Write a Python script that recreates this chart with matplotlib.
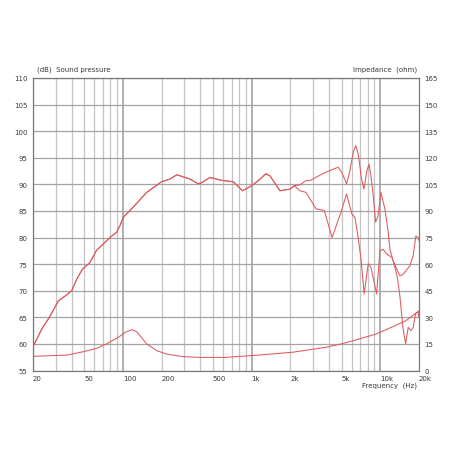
import numpy as np
import matplotlib
matplotlib.use("Agg")
import matplotlib.pyplot as plt
from matplotlib.ticker import NullFormatter

# data
spl_freq_common = [20, 21, 23.5, 26.8, 31.5, 35.5, 40, 44, 48.7, 55.4, 62.4, 70.4, 79.2,
                   89.4, 95, 100.6, 120, 153, 200, 232, 262, 332, 384, 408, 474, 534,
                   600, 720, 850, 1002, 1126, 1292, 1390, 1662, 1990, 2148]
spl_db_common = [59.5, 60.5, 62.9, 65.0, 68.1, 69.0, 70.0, 72.3, 74.1, 75.3, 77.6, 78.8,
                 80.0, 81.0, 82.3, 83.8, 85.7, 88.5, 90.5, 91.0, 91.8, 91.0, 90.1, 90.3,
                 91.3, 91.0, 90.7, 90.5, 88.8, 89.75, 90.7, 92.0, 91.6, 88.8, 89.1, 89.75]

spl_on_freq = [2376, 2644, 2840, 3560, 4064, 4441, 4712, 5008, 5477, 5808, 6166, 6436,
               6740, 7161, 7464, 7832, 8161, 8460, 8815, 9202, 9600, 10117, 10862, 11526,
               11885, 12604, 13400, 13640, 14210, 15000, 15740, 16480, 17300, 18020,
               18810, 19720, 20000]
spl_on_db = [89.9, 90.7, 90.7, 92.0, 92.6, 93.0, 93.2, 92.3, 90.1, 92.6, 96.0, 97.3,
             95.7, 91.0, 89.1, 92.3, 93.8, 91.6, 87.9, 82.9, 84.0, 88.5, 85.4, 81.0,
             77.8, 75.6, 73.1, 72.2, 69.0, 63.0, 60.0, 63.1, 62.5, 63.1,
             65.7, 66.0, 65.0]

spl_off_freq = [2376, 2644, 3170, 3670, 4220, 4940, 5470, 6020, 6350, 6740, 7080, 7500,
                8060, 8460, 9370, 9940, 10540, 11200, 12250, 13400, 14210, 15080, 17000,
                18020, 18920, 19720, 20000]
spl_off_db = [88.8, 88.5, 85.4, 85.1, 80.0, 84.7, 88.2, 84.4, 83.8, 79.9, 76.0, 69.4,
              75.1, 74.4, 69.4, 77.5, 77.8, 76.9, 76.3, 74.1, 72.8, 73.1, 74.7,
              76.6, 80.3, 80.0, 79.4]

imp_freq = [20, 36.6, 49.3, 62.4, 74.6, 92, 104, 117, 128, 153, 183, 218, 294, 399,
            632, 1130, 2080, 3790, 5170, 6860, 9300, 12500, 15800, 20000]
imp_ohm = [8.0, 8.7, 10.6, 12.5, 15.0, 18.7, 21.5, 23.0, 21.9, 15.0, 11.2, 9.3, 7.8, 7.4,
           7.4, 8.7, 10.3, 13.1, 15.3, 17.8, 20.6, 24.7, 28.1, 33.7]

freq_labels = ['20', '50', '100', '200', '500', '1k', '2k', '5k', '10k', '20k']
freq_label_pos = [20, 50, 100, 200, 500, 1000, 2000, 5000, 10000, 20000]
db_ticks = list(range(55, 111, 5))
ohm_ticks = list(range(0, 166, 15))

curve_color = '#dc5a5e'
text_color = '#3a3a3a'

fig = plt.figure(figsize=(4.52, 4.52), dpi=100)
ax = fig.add_axes([33 / 452, 1 - 371.5 / 452, 386 / 452, 292.5 / 452])

# grid
minor_lines = [m * d for d in (10, 100, 1000) for m in range(2, 10)]
for f in minor_lines:
    ax.axvline(f, color='#c4c4c4', lw=0.9, zorder=0)
for f in (100, 1000, 10000):
    ax.axvline(f, color='#9a9a9a', lw=1.1, zorder=0)
for v in db_ticks:
    ax.axhline(v, color='#a4a4a4', lw=0.9, zorder=0)

spl_on = (spl_freq_common + spl_on_freq, spl_db_common + spl_on_db)
spl_off = (spl_freq_common + spl_off_freq, spl_db_common + spl_off_db)
ax.plot(*spl_off, color=curve_color, lw=0.75)
ax.plot(*spl_on, color=curve_color, lw=0.75)

ax.set_xscale('log')
ax.set_xlim(20, 20000)
ax.set_ylim(55, 110)
ax.set_xticks(freq_label_pos)
ax.set_xticklabels(freq_labels, ha='left')
ax.xaxis.set_minor_formatter(NullFormatter())
ax.tick_params(axis='x', which='both', length=0, pad=3, labelsize=5, colors=text_color)
ax.set_yticks(db_ticks)
ax.tick_params(axis='y', length=0, pad=4, labelsize=5, colors=text_color)

ax2 = ax.twinx()
ax2.plot(imp_freq, imp_ohm, color=curve_color, lw=0.75)
ax2.set_ylim(0, 165)
ax2.set_yticks(ohm_ticks)
ax2.tick_params(axis='y', length=0, pad=4, labelsize=5, colors=text_color)

for a in (ax, ax2):
    for s in a.spines.values():
        s.set_color('#777777')
        s.set_linewidth(0.8)

fig.text(37 / 452, 1 - 70 / 452, '(dB)  Sound pressure', fontsize=5, color=text_color,
         va='center', ha='left')
fig.text(417 / 452, 1 - 70 / 452, 'Impedance  (ohm)', fontsize=5, color=text_color,
         va='center', ha='right')
fig.text(417 / 452, 1 - 386 / 452, 'Frequency  (Hz)', fontsize=5, color=text_color,
         va='center', ha='right')

fig.savefig('out.png', dpi=100, facecolor='white')
